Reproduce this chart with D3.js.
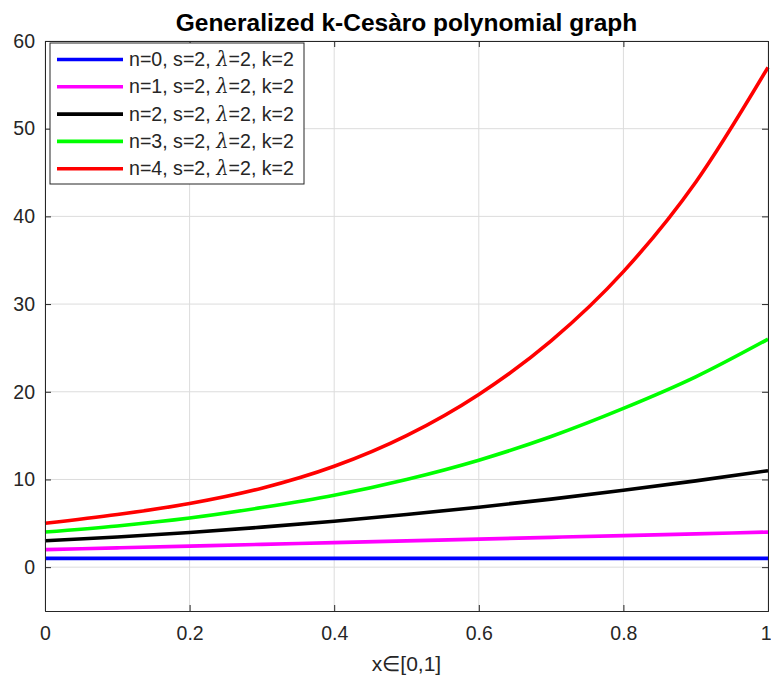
<!DOCTYPE html>
<html>
<head>
<meta charset="utf-8">
<script src="https://d3js.org/d3.v7.min.js"></script>
<style>
body { margin: 0; background: #fff; }
svg { font-family: "Liberation Sans", Arial, sans-serif; }
.grid line { stroke: #dcdcdc; stroke-width: 1; }
.axis path, .axis line { stroke: #262626; }
</style>
</head>
<body>
<script>
// x sample points
var xs = [0, 0.1, 0.2, 0.3, 0.4, 0.5, 0.6, 0.7, 0.8, 0.9, 1];

// values
var n0 = [1, 1, 1, 1, 1, 1, 1, 1, 1, 1, 1];
var n1 = [2, 2.2, 2.4, 2.6, 2.8, 3.0, 3.2, 3.4, 3.6, 3.8, 4];
var n2 = [3, 3.44, 3.96, 4.56, 5.24, 6.0, 6.84, 7.76, 8.76, 9.84, 11];
var n3 = [4, 4.7, 5.6, 6.8, 8.2, 10.0, 12.2, 14.9, 18.1, 21.7, 26];
var n4 = [5, 6.0, 7.25, 9.0, 11.5, 15.0, 19.7, 25.8, 33.7, 43.9, 57];

var labels = ["n=0", "n=1", "n=2", "n=3", "n=4"];
var colors = ["#0000ff", "#ff00ff", "#000000", "#00ff00", "#ff0000"];
var series = [n0, n1, n2, n3, n4];

var xTicks = [0, 0.2, 0.4, 0.6, 0.8, 1];
var yTicks = [0, 10, 20, 30, 40, 50, 60];

var W = 771, H = 679;
var margin = {top: 41, right: 3, bottom: 68, left: 45};
var width = W - margin.left - margin.right,
    height = H - margin.top - margin.bottom;

var svg = d3.select("body").append("svg")
    .attr("width", W)
    .attr("height", H);

var g = svg.append("g")
    .attr("transform", "translate(" + margin.left + "," + margin.top + ")");

var x = d3.scaleLinear().domain([0, 1]).range([0, width]);
var y = d3.scaleLinear().domain([-5, 60]).range([height, 0]);

// grid
g.append("g").attr("class", "grid")
  .selectAll("line.v").data(xTicks).enter().append("line")
    .attr("x1", d => x(d)).attr("x2", d => x(d))
    .attr("y1", 0).attr("y2", height);
g.append("g").attr("class", "grid")
  .selectAll("line.h").data(yTicks).enter().append("line")
    .attr("y1", d => y(d)).attr("y2", d => y(d))
    .attr("x1", 0).attr("x2", width);

// lines
var line = d3.line()
    .x((d, i) => x(xs[i]))
    .y(d => y(d))
    .curve(d3.curveMonotoneX);

g.selectAll(".series").data(series).enter().append("path")
    .attr("class", "series")
    .attr("fill", "none")
    .attr("stroke", (d, i) => colors[i])
    .attr("stroke-width", 3.6)
    .attr("d", line);

// axes (ticks inward, box on)
var fmt = d => d3.format("")(d);
var xb = g.append("g").attr("class", "axis")
    .attr("transform", "translate(0," + height + ")")
    .call(d3.axisBottom(x).tickValues(xTicks).tickSize(-6).tickPadding(15).tickFormat(fmt));
g.append("g").attr("class", "axis")
    .call(d3.axisTop(x).tickValues(xTicks).tickSize(-6).tickFormat(""));
g.append("g").attr("class", "axis")
    .call(d3.axisLeft(y).tickValues(yTicks).tickSize(-6).tickPadding(10).tickFormat(fmt));
g.append("g").attr("class", "axis")
    .attr("transform", "translate(" + width + ",0)")
    .call(d3.axisRight(y).tickValues(yTicks).tickSize(-6).tickFormat(""));

g.selectAll(".axis")
    .attr("font-family", "'Liberation Sans', Arial, sans-serif")
    .attr("font-size", 19.5);
g.selectAll(".axis text").attr("fill", "#262626");
// last label sits at the window edge, keep it inside
xb.selectAll(".tick text").filter(d => d === 1)
    .attr("text-anchor", "end").attr("dx", "3");

// title
svg.append("text")
    .attr("x", margin.left + width / 2)
    .attr("y", 31)
    .attr("text-anchor", "middle")
    .attr("font-size", "24.5px")
    .attr("font-weight", "bold")
    .attr("fill", "#000")
    .text("Generalized k-Cesàro polynomial graph");

// x label
svg.append("text")
    .attr("x", margin.left + width / 2)
    .attr("y", 671)
    .attr("text-anchor", "middle")
    .attr("font-size", "21px")
    .attr("fill", "#262626")
    .text("x∈[0,1]");

// legend
var leg = g.append("g").attr("transform", "translate(5,2)");
leg.append("rect")
    .attr("width", 254).attr("height", 141)
    .attr("fill", "#fff")
    .attr("stroke", "#262626").attr("stroke-width", 1);

var rows = leg.selectAll(".row").data(labels).enter().append("g")
    .attr("transform", (d, i) => "translate(0," + (16.5 + i * 27.3) + ")");
rows.append("line")
    .attr("x1", 7).attr("x2", 73)
    .attr("stroke", (d, i) => colors[i])
    .attr("stroke-width", 3.6);
var t = rows.append("text")
    .attr("x", 79).attr("y", 6.5)
    .attr("font-size", "19.6px")
    .attr("fill", "#262626");
t.append("tspan").text(d => d + ", s=2, ");
t.append("tspan").attr("font-family", "'DejaVu Serif', serif").attr("font-style", "italic").text("λ");
t.append("tspan").text("=2, k=2");
</script>
</body>
</html>
